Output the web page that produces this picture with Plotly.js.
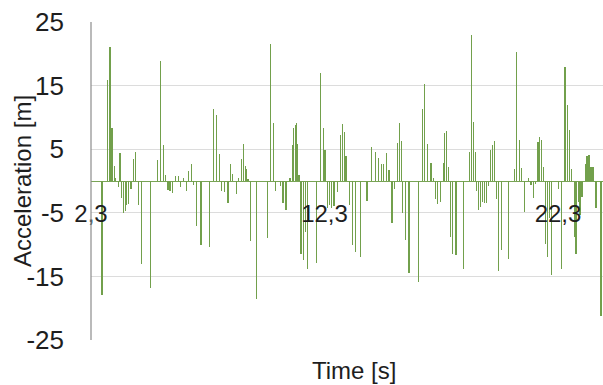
<!DOCTYPE html>
<html>
<head>
<meta charset="utf-8">
<script src="https://cdn.plot.ly/plotly-3.0.1.min.js"></script>
<style>
  html, body { margin: 0; padding: 0; background: #fff; }
  #chart { width: 603px; height: 385px; }
</style>
</head>
<body>
<div id="chart"></div>
<script>
// Sample times [s] of the recorded acceleration peaks
const time = [
  2.77, 3.00, 3.11, 3.20, 3.29, 3.36, 3.46, 3.54, 3.61, 3.68, 3.77, 3.83, 3.91, 4.01, 4.11, 4.21,
  4.33, 4.45, 4.86, 5.16, 5.27, 5.40, 5.50, 5.60, 5.68, 5.78, 5.93, 6.03, 6.12, 6.27, 6.38, 6.48,
  6.60, 6.70, 6.83, 7.01, 7.37, 7.55, 7.68, 7.79,
  7.90, 8.00, 8.17, 8.27, 8.37, 8.52, 8.63, 8.74, 8.84, 8.91, 8.97, 9.02, 9.14, 9.38, 9.87, 10.00,
  10.11, 10.21, 10.42, 10.52, 10.65, 10.82, 10.92, 10.98, 11.04, 11.09, 11.15, 11.21, 11.29, 11.39,
  11.47, 11.58, 11.97, 12.14, 12.25, 12.32, 12.42, 12.51, 12.61, 12.71, 12.85, 12.98, 13.08, 13.15,
  13.22, 13.36, 13.49, 13.61, 13.83, 14.12, 14.32, 14.48, 14.62, 14.73, 14.82, 14.96, 15.06, 15.19,
  15.31, 15.42, 15.50, 15.58, 15.65, 15.76, 15.92, 16.33, 16.51, 16.60, 16.70, 16.86, 16.98, 17.06,
  17.15, 17.26, 17.38, 17.43, 17.52, 17.60, 17.68, 17.79, 17.93, 18.26, 18.50,
  18.60, 18.67, 18.75, 18.82, 18.90, 18.99, 19.08, 19.16, 19.23, 19.32, 19.40, 19.49, 19.57, 19.65,
  19.74, 19.89, 20.19, 20.43, 20.54, 20.64, 20.75, 20.86, 21.05, 21.14, 21.24, 21.35, 21.44, 21.52,
  21.60, 21.69, 21.76, 21.84, 21.93, 22.03, 22.31, 22.46, 22.60, 22.69, 22.78, 22.89, 22.99, 23.07,
  23.16, 23.24, 23.33, 23.46, 23.54, 23.63, 23.71, 23.80, 23.93, 24.14
];

// Acceleration at each sample time
const acceleration = [
  -18.0, 15.9, 21.0, 8.4, 2.4, 0.5, -1.0, 4.4, -2.7, -5.1, -4.7, -3.7, -3.6, -1.3, 3.5, 4.5,
  -3.7, -13.0, -16.8, 3.3, 18.9, 5.7, 1.0, -1.4, -1.6, -1.9, 0.8, 0.8, -1.0, 0.4, -1.5, 1.6,
  2.7, -0.7, -7.0, -10.1, -10.4, 11.3, 10.3, 4.2,
  -1.6, -1.8, -3.5, 2.6, 1.1, -2.0, 0.5, 3.5, 5.8, 2.3, 1.9, 0.3, -9.4, -18.6, -9.0, 21.5,
  9.1, -1.6, -0.8, -3.4, -4.5, 0.5, 5.6, 8.4, 8.8, 9.1, 5.8, 0.9, -11.4, -12.4,
  -8.0, -13.8, -12.9, 17.0, 8.4, 4.9, -4.3, -3.8, -4.2, -3.9, -1.7, 7.2, 9.0, 7.7,
  4.0, -3.8, -10.1, -11.2, -11.9, -3.2, 5.3, 4.6, 3.6, 2.7, 2.7, 4.4, 1.8, -6.6,
  -1.3, 5.9, 9.1, 6.3, -5.1, -9.3, -14.4, -15.9, 11.3, 15.3, 5.8, 2.9, 0.5, -2.8,
  -3.6, -3.3, 2.9, 7.6, 7.8, 2.2, -8.8, -11.5, -11.6, -13.9, 4.6,
  23.0, 9.3, 4.6, -1.5, -4.6, -4.1, -3.3, -3.4, -3.4, -0.8, 4.8, 5.6, 6.3, -2.9,
  -14.1, -10.8, -12.3, 1.9, 20.3, 6.5, 2.0, -4.8, 0.5, -0.7, -2.7, -0.4, 6.1, 6.9,
  6.5, 2.2, -9.9, -11.9, -5.8, -14.8, -1.2, -13.8, 18.0, 11.9, 8.0, 1.9, -8.8, -11.5,
  -3.3, -5.4, -2.5, 2.6, 3.9, 4.1, 2.2, 2.2, -4.3, -21.3
];

// Axis ticks
const yTicks = [-25, -15, -5, 5, 15, 25];
const yTickLabels = ['-25', '-15', '-5', '5', '15', '25'];
const xTicks = [2.3, 12.3, 22.3];
const xTickLabels = ['2,3', '12,3', '22,3'];

const fontFamily = '"Liberation Sans", Arial, sans-serif';
const textColor = '#1e1e1e';
const barColor = '#72a04c';
const axisGrey = '#8c8c8c';

const trace = {
  type: 'bar',
  x: time,
  y: acceleration,
  width: 0.05,
  marker: { color: barColor, line: { width: 0 } },
  hoverinfo: 'x+y'
};

const plotWidth = 603 - 91;
const pxPerSecond = 23.35;

const layout = {
  width: 603,
  height: 385,
  margin: { l: 91, r: 0, t: 22, b: 45, pad: 0 },
  paper_bgcolor: '#ffffff',
  plot_bgcolor: '#ffffff',
  showlegend: false,
  bargap: 0,
  font: { family: fontFamily, color: textColor },
  xaxis: {
    type: 'linear',
    range: [xTicks[0], xTicks[0] + plotWidth / pxPerSecond],
    tickmode: 'array',
    tickvals: xTicks,
    ticktext: xTickLabels,
    ticks: '',
    anchor: 'free',
    position: 0.5,
    ticklabelstandoff: 16,
    showline: false,
    showgrid: false,
    zeroline: false,
    tickfont: { family: fontFamily, size: 24, color: textColor }
  },
  yaxis: {
    range: [-25, 25],
    tickmode: 'array',
    tickvals: yTicks,
    ticktext: yTickLabels,
    ticks: '',
    ticklabelstandoff: 26,
    showline: false,
    showgrid: true,
    gridcolor: '#dcdcdc',
    gridwidth: 1,
    zeroline: true,
    zerolinecolor: '#79a455',
    zerolinewidth: 1,
    tickfont: { family: fontFamily, size: 26, color: textColor }
  },
  shapes: [{
    // vertical value axis line
    type: 'line',
    xref: 'paper', yref: 'paper',
    x0: 0, x1: 0, y0: 0, y1: 1,
    line: { color: axisGrey, width: 1.2 },
    layer: 'above'
  }],
  annotations: [{
    xref: 'paper', yref: 'paper',
    x: 0.514, y: 0,
    yshift: -30,
    xanchor: 'center', yanchor: 'middle',
    showarrow: false,
    text: 'Time [s]',
    font: { family: fontFamily, size: 24, color: textColor }
  }, {
    xref: 'paper', yref: 'paper',
    x: 0, y: 0.5,
    xshift: -69,
    xanchor: 'center', yanchor: 'middle',
    textangle: -90,
    showarrow: false,
    text: 'Acceleration [m]',
    font: { family: fontFamily, size: 24, color: textColor }
  }]
};

Plotly.newPlot('chart', [trace], layout, { displayModeBar: false, staticPlot: true });
</script>
</body>
</html>
